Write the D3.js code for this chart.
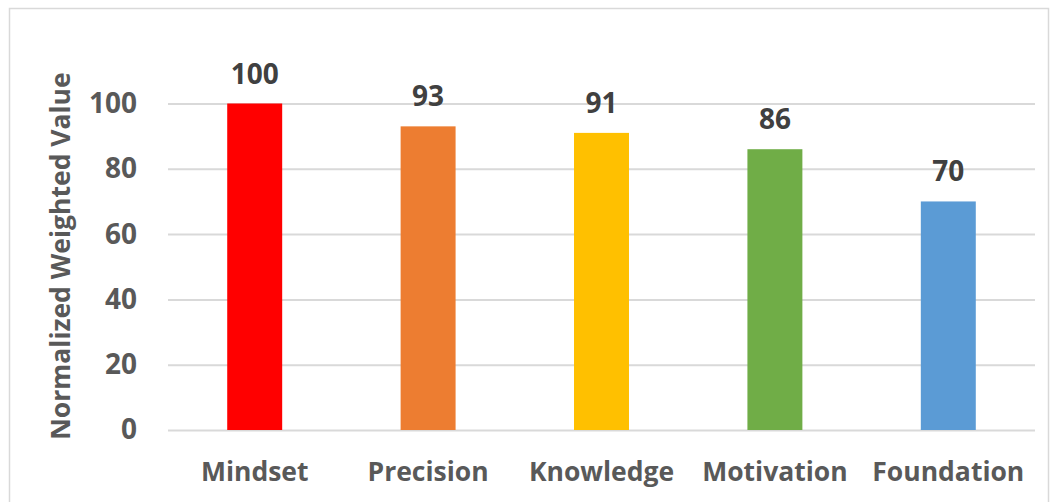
<!DOCTYPE html>
<html>
<head>
<meta charset="utf-8">
<script src="https://cdn.jsdelivr.net/npm/d3@7"></script>
<style>
  html, body { margin: 0; padding: 0; background: #fff; }
  svg text { font-family: "Open Sans", "Liberation Sans", sans-serif; font-weight: 700; }
</style>
</head>
<body>
<svg id="chart" width="1050" height="502"></svg>
<script>
// Normalized weighted values per factor
const categories = ["Mindset", "Precision", "Knowledge", "Motivation", "Foundation"];
const values = [100, 93, 91, 86, 70];
const barColors = ["#FF0000", "#ED7D31", "#FFC000", "#70AD47", "#5B9BD5"];
const yTicks = [0, 20, 40, 60, 80, 100];
const yTitle = "Normalized Weighted Value";

const svg = d3.select("#chart");
const W = 1050, H = 502;
const plot = { left: 168, right: 1035, top: 103.5, bottom: 430 };

// chart frame
svg.append("rect")
  .attr("x", 9.5).attr("y", 8.5)
  .attr("width", W - 11).attr("height", H + 10)
  .attr("fill", "#fff").attr("stroke", "#D9D9D9").attr("stroke-width", 1.5);

const x = d3.scaleBand().domain(categories).range([plot.left, plot.right]).paddingInner(0.683).paddingOuter(0.3415);
const y = d3.scaleLinear().domain([0, 100]).range([plot.bottom, plot.top]);

// gridlines
svg.append("g")
  .attr("transform", `translate(${plot.left},0)`)
  .call(d3.axisLeft(y).tickValues(yTicks).tickSize(-(plot.right - plot.left)).tickFormat(""))
  .call(g => g.select(".domain").remove())
  .call(g => g.selectAll("line").attr("stroke", "#D9D9D9").attr("stroke-width", 2));

// y tick labels
svg.append("g")
  .attr("transform", `translate(${plot.left},0)`)
  .call(d3.axisLeft(y).tickValues(yTicks).tickSize(0).tickPadding(31))
  .call(g => g.select(".domain").remove())
  .call(g => g.selectAll("text")
    .attr("fill", "#595959").style("font-size", "28px"));

// bars
svg.append("g").selectAll("rect")
  .data(values)
  .join("rect")
  .attr("x", (d, i) => x(categories[i]))
  .attr("width", x.bandwidth())
  .attr("y", d => y(d))
  .attr("height", d => y(0) - y(d))
  .attr("fill", (d, i) => barColors[i]);

// value labels
svg.append("g").selectAll("text")
  .data(values)
  .join("text")
  .attr("x", (d, i) => x(categories[i]) + x.bandwidth() / 2)
  .attr("y", d => y(d) - 20)
  .attr("text-anchor", "middle")
  .attr("fill", "#404040")
  .style("font-size", "28px")
  .text(d => d);

// category labels
svg.append("g")
  .attr("transform", `translate(0,${plot.bottom})`)
  .call(d3.axisBottom(x).tickSize(0).tickPadding(0))
  .call(g => g.select(".domain").remove())
  .call(g => g.selectAll("text")
    .attr("dy", null)
    .attr("y", 51)
    .attr("fill", "#595959").style("font-size", "26.5px"));

// y-axis title
svg.append("text")
  .attr("transform", `translate(70,256) rotate(-90)`)
  .attr("text-anchor", "middle")
  .attr("fill", "#595959")
  .style("font-size", "26.5px")
  .text(yTitle);
</script>
</body>
</html>
